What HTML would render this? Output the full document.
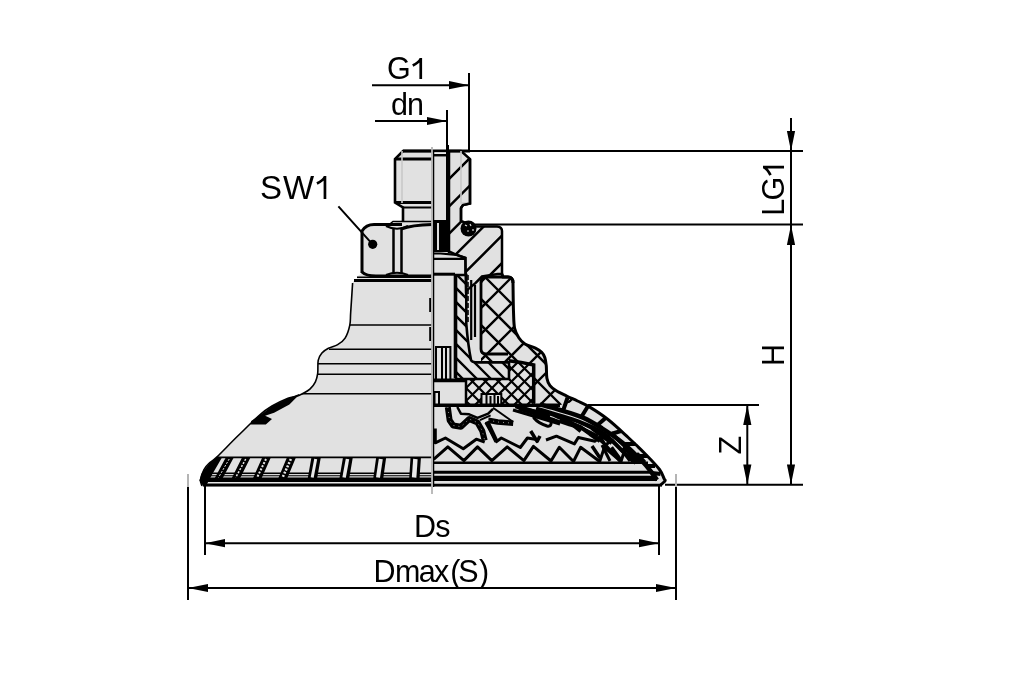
<!DOCTYPE html><html><head><meta charset="utf-8"><style>html,body{margin:0;padding:0;background:#fff;width:1010px;height:673px;overflow:hidden}svg{display:block;will-change:transform}</style></head><body><svg width="1010" height="673" viewBox="0 0 1010 673"><defs><clipPath id="c1"><path d="M449 151L461 151L470 159L470 203.5L463 205L461 208L461 221L474 226.5L497 226.5Q502 227 502 231L502 274L497.6 274L482 276.5L475.4 283.2L466 291L465.4 258L456.5 254.8L450.3 252L449 252Z"/></clipPath><clipPath id="c2"><path d="M456 275L466.3 275L466.3 324Q468 345 471 360Q472 362.4 478 362.4L509 362.4L509 379L456 379Z"/></clipPath><clipPath id="c3"><path d="M481 283Q481 277 487 277L508 277Q513 277 513 283C513.1 287.8 513.2 304.1 513.5 311.7C513.8 319.2 513.7 324.0 514.6 328.3C515.5 332.6 517.1 335.1 518.8 337.7C520.5 340.3 522.2 342.3 525.0 344.0C527.8 345.7 532.6 346.7 535.4 348.1C538.2 349.5 540.1 350.7 541.7 352.3C543.3 353.9 544.0 355.2 544.8 357.5C545.6 359.8 545.9 362.3 546.3 365.8C546.6 369.3 546.3 375.0 546.9 378.3C547.5 381.6 548.4 383.5 550.0 385.6C551.6 387.7 553.5 389.1 556.3 390.8C559.1 392.5 563.2 394.3 566.7 396.0C570.2 397.7 575.7 400.2 577.5 401.0L560 405L533.7 404L533.7 365L521 362.4L481 362.4Z"/></clipPath><clipPath id="c4"><path d="M465 379L509 379L509 362.4L521 362.4L533.7 365L533.7 404L465 404Z"/></clipPath></defs><path d="M403 151L461 151L470 159L470 203.5L463 205L461 208L461 221L470 224L497 225.5Q502 226 502 231L502 274L503 277L508 277Q513 277 513 283C513.1 287.8 513.2 304.1 513.5 311.7C513.8 319.2 513.7 324.0 514.6 328.3C515.5 332.6 517.1 335.1 518.8 337.7C520.5 340.3 522.2 342.3 525.0 344.0C527.8 345.7 532.6 346.7 535.4 348.1C538.2 349.5 540.1 350.7 541.7 352.3C543.3 353.9 544.0 355.2 544.8 357.5C545.6 359.8 545.9 362.3 546.3 365.8C546.6 369.3 546.3 375.0 546.9 378.3C547.5 381.6 548.4 383.5 550.0 385.6C551.6 387.7 553.5 389.1 556.3 390.8C559.1 392.5 563.2 394.3 566.7 396.0C570.2 397.7 573.7 399.2 577.5 401.0C581.3 402.8 584.3 403.8 589.4 406.9C594.5 410.0 601.5 414.4 608.0 419.5C614.5 424.6 621.6 431.4 628.2 437.5C634.8 443.6 642.3 450.9 647.5 456.2C652.7 461.5 656.7 465.7 659.5 469.5C662.3 473.3 663.3 477.0 664.2 478.9C665.1 480.8 665.6 479.9 664.9 481.0C664.2 482.1 660.8 484.8 660.0 485.5L659 487L202 487L202 486C201.8 485.0 200.2 482.8 200.5 480.0C200.8 477.2 202.6 472.3 204.0 469.5C205.4 466.7 206.9 465.4 209.1 463.3C211.3 461.2 212.5 461.2 217.3 456.6C222.1 452.0 230.9 442.7 238.0 435.8C245.1 428.9 253.9 420.0 259.6 415.0C265.3 410.0 267.3 408.8 272.0 406.0C276.7 403.2 284.0 399.8 288.0 398.2C292.0 396.6 293.5 397.3 295.9 396.6C298.3 395.9 300.1 395.0 302.4 393.8C304.7 392.6 307.7 391.2 309.9 389.2C312.1 387.2 314.1 384.4 315.4 381.8C316.7 379.2 317.2 377.0 317.7 373.4C318.2 369.8 317.5 363.8 318.2 360.4C318.9 357.0 320.2 355.0 321.9 353.0C323.6 351.0 325.8 349.7 328.4 348.3C331.0 346.9 334.9 346.3 337.7 344.6C340.5 342.9 343.1 341.4 345.1 338.1C347.1 334.9 348.9 329.4 349.8 325.1C350.7 320.8 350.2 319.1 350.7 312.1C351.2 305.1 352.3 287.9 352.6 283.0Q353 280 357 279L357 276.5L362 273L362 232Q364 225 374 225L392 224L402 220L402 207.5L395 202.5L395 159Z" fill="#e1e1e1"/>
<path d="M403 151L470 151M395 159L432 159M395 202.5L432 202.5" stroke="#000" stroke-width="3" fill="none"/><path d="M470 151L803 151" stroke="#000" stroke-width="2.2" fill="none"/><path d="M432 151H403L395 159V202.5L403 207.5V221" stroke="#000" stroke-width="2.6" fill="none"/><path d="M403 207.5L432 207.5" stroke="#000" stroke-width="2" fill="none"/><path d="M388 225.5L393 221.5H432" stroke="#000" stroke-width="1.6" fill="none"/><path d="M402 151V203" stroke="#c8c8c8" stroke-width="1.6"/><path d="M393.5 229V273M401.5 229V273" stroke="#000" stroke-width="2.5"/><path d="M362 273V231Q366 224.5 374 224.5L393 224.5" stroke="#000" stroke-width="3" fill="none"/><path d="M393 224.5L402 224.5M401 229Q412 225 432 224.5" stroke="#000" stroke-width="3" fill="none"/><path d="M386 226Q397 231.5 408 226" stroke="#000" stroke-width="2" fill="none"/><path d="M362 272Q366 276 376 276L432 276" stroke="#000" stroke-width="3" fill="none"/><path d="M386 275Q397 270.5 408 275" stroke="#000" stroke-width="2" fill="none"/><path d="M357 277.2L432 277.2" stroke="#000" stroke-width="1.5"/><path d="M354 280.5L432 280.5" stroke="#000" stroke-width="3"/><path d="M349.8 325.1H432M329 349.3H432M318 363.7H432M317.7 374.3H432M302 393.8H432" stroke="#000" stroke-width="1.5" fill="none"/><path d="M217 457.3H432" stroke="#000" stroke-width="1.8" fill="none"/><path d="M203 472.6H432V486.5H203Z" fill="#000"/><path d="M206 474.6H432M205 476.9H432" stroke="#d8d8d8" stroke-width="1.2" fill="none"/><path d="M203 482.8H432" stroke="#e8e8e8" stroke-width="1.5" fill="none"/><path d="M225.5 458L233.5 458L222.8 478L214.8 478ZM241.8 458L250.2 458L240.2 478L231.8 478ZM262.0 458L270.6 458L261.7 478L253.1 478ZM286.7 458L295.7 458L287.4 478L278.4 478ZM311.3 458L320.7 458L317.2 478L307.8 478ZM342.9 458L352.7 458L349.3 478L339.5 478ZM376.1 458L386.1 458L383.3 478L373.3 478ZM410.5 458L420.9 458L419.6 478L409.2 478Z" fill="#000"/><path d="M229.2 459L218.5 477.5" stroke="#e8e8e8" stroke-width="1.00" stroke-dasharray="2 1.5" fill="none"/><path d="M245.7 459L235.7 477.5" stroke="#e8e8e8" stroke-width="1.50" stroke-dasharray="2 1.5" fill="none"/><path d="M266.0 459L257.1 477.5" stroke="#e8e8e8" stroke-width="2.00" stroke-dasharray="2 1.5" fill="none"/><path d="M290.9 459L282.6 477.5" stroke="#e8e8e8" stroke-width="2.50" stroke-dasharray="2 1.5" fill="none"/><path d="M315.7 459L312.2 477.5" stroke="#e8e8e8" stroke-width="3.00" fill="none"/><path d="M347.5 459L344.1 477.5" stroke="#e8e8e8" stroke-width="3.50" fill="none"/><path d="M380.8 459L378.0 477.5" stroke="#e8e8e8" stroke-width="4.00" fill="none"/><path d="M415.4 459L414.1 477.5" stroke="#e8e8e8" stroke-width="4.50" fill="none"/><path d="M202 486C201.8 485.0 200.2 482.8 200.5 480.0C200.8 477.2 202.6 472.3 204.0 469.5C205.4 466.7 206.9 465.4 209.1 463.3C211.3 461.2 212.5 461.2 217.3 456.6C222.1 452.0 230.9 442.7 238.0 435.8C245.1 428.9 253.9 420.0 259.6 415.0C265.3 410.0 267.3 408.8 272.0 406.0C276.7 403.2 284.0 399.8 288.0 398.2C292.0 396.6 293.5 397.3 295.9 396.6C298.3 395.9 300.1 395.0 302.4 393.8C304.7 392.6 307.7 391.2 309.9 389.2C312.1 387.2 314.1 384.4 315.4 381.8C316.7 379.2 317.2 377.0 317.7 373.4C318.2 369.8 317.5 363.8 318.2 360.4C318.9 357.0 320.2 355.0 321.9 353.0C323.6 351.0 325.8 349.7 328.4 348.3C331.0 346.9 334.9 346.3 337.7 344.6C340.5 342.9 343.1 341.4 345.1 338.1C347.1 334.9 348.9 329.4 349.8 325.1C350.7 320.8 350.2 319.1 350.7 312.1C351.2 305.1 352.3 287.9 352.6 283.0" stroke="#000" stroke-width="1.6" fill="none"/><path d="M216.5 457.5L222 457.5L213 473L206 486L202.5 485.1L199.3 480.4L202 472.6L209.1 463.7Z" fill="#000"/><path d="M299.1 394L288 398.2L272.7 405.8L264.4 412L251.2 421L250.5 424.5L265.8 424.5L272 419L267.9 416.9L265.1 415.8L274.1 412.7L289.4 404.4L299.1 394.7Z" fill="#000"/>
<g clip-path="url(#c1)"><path d="M440 160.6L510 90.6M440 188.0L510 118.0M440 215.4L510 145.4M440 242.8L510 172.8M440 270.2L510 200.2M440 297.6L510 227.6M440 325.0L510 255.0M440 352.4L510 282.4" stroke="#000" stroke-width="2.5" fill="none"/></g><path d="M449 151L461 151L470 159L470 203.5L463 205L461 208L461 221L474 226.5L497 226.5Q502 227 502 231L502 274L497.6 274L482 276.5L475.4 283.2L466 291L465.4 258L456.5 254.8L450.3 252L449 252Z" fill="none" stroke="#000" stroke-width="2.5"/><path d="M433 155.2H446" stroke="#000" stroke-width="2.5"/><path d="M433 153H446" stroke="#f4f4f4" stroke-width="1.4"/><path d="M447.5 145V252" stroke="#000" stroke-width="3"/><path d="M461 151V203H470" stroke="#c8c8c8" stroke-width="1.6" fill="none"/><circle cx="468.5" cy="228.5" r="8" fill="#000"/><path d="M465 225l2 1M470 224l1 2M467 231l2 0M473 229l0 2" stroke="#ddd" stroke-width="1.2"/><rect x="434" y="220" width="16" height="32" fill="#000"/><rect x="437" y="223" width="2" height="27" fill="#ddd"/><path d="M433 253.5L440.5 253.5L456.5 254.8L465.4 257.9L465.4 274.4M433 258.8H465.4" stroke="#000" stroke-width="2.2" fill="none"/><path d="M433 274.2H455" stroke="#000" stroke-width="3"/><g clip-path="url(#c2)"><path d="M450 212.0L515 277.0M450 226.0L515 291.0M450 240.0L515 305.0M450 254.0L515 319.0M450 268.0L515 333.0M450 282.0L515 347.0M450 296.0L515 361.0M450 310.0L515 375.0M450 324.0L515 389.0M450 338.0L515 403.0M450 352.0L515 417.0M450 366.0L515 431.0M450 380.0L515 445.0" stroke="#000" stroke-width="2.3" fill="none"/></g><path d="M456 275L466.3 275L466.3 324Q468 345 471 360Q472 362.4 478 362.4L509 362.4L509 379L456 379Z" fill="none" stroke="#000" stroke-width="2.6"/><path d="M454.8 275V378M471.2 280V340M475 285V337" stroke="#000" stroke-width="2.2" fill="none"/><path d="M468 275V324" stroke="#000" stroke-width="1.6" stroke-dasharray="5 2" fill="none"/><path d="M436 379V347H450.4V379M442 347V379M446 347V379M433 379.4H465" stroke="#000" stroke-width="2" fill="none"/><path d="M430.2 298V312M430.2 327V341" stroke="#000" stroke-width="2"/><g clip-path="url(#c3)"><path d="M470 293.0L590 173.0M470 319.0L590 199.0M470 345.0L590 225.0M470 371.0L590 251.0M470 397.0L590 277.0M470 423.0L590 303.0M470 449.0L590 329.0M470 475.0L590 355.0M470 501.0L590 381.0M470 527.0L590 407.0" stroke="#000" stroke-width="2.3" fill="none"/><path d="M470 158.0L590 278.0M470 184.0L590 304.0M470 210.0L590 330.0M470 236.0L590 356.0M470 262.0L590 382.0M470 288.0L590 408.0M470 314.0L590 434.0M470 340.0L590 460.0M470 366.0L590 486.0M470 392.0L590 512.0" stroke="#000" stroke-width="2.3" fill="none"/></g><g clip-path="url(#c4)"><path d="M460 355.0L540 275.0M460 368.0L540 288.0M460 381.0L540 301.0M460 394.0L540 314.0M460 407.0L540 327.0M460 420.0L540 340.0M460 433.0L540 353.0M460 446.0L540 366.0M460 459.0L540 379.0M460 472.0L540 392.0M460 485.0L540 405.0" stroke="#000" stroke-width="2.2" fill="none"/><path d="M460 278.0L540 358.0M460 291.0L540 371.0M460 304.0L540 384.0M460 317.0L540 397.0M460 330.0L540 410.0M460 343.0L540 423.0M460 356.0L540 436.0M460 369.0L540 449.0M460 382.0L540 462.0M460 395.0L540 475.0M460 408.0L540 488.0" stroke="#000" stroke-width="2.2" fill="none"/></g><path d="M481 283Q481 277 487 277L508 277Q513 277 513 283" fill="none" stroke="#000" stroke-width="3"/><path d="M481 283V349Q481 354 486 354L508 354" fill="none" stroke="#000" stroke-width="2.8"/><path d="M508.7 360.8L521.2 362.4L533.7 365V403" fill="none" stroke="#000" stroke-width="3.5"/><path d="M466 379V404" fill="none" stroke="#000" stroke-width="2.5"/><path d="M433 381H466" stroke="#000" stroke-width="2.5" fill="none"/><rect x="481.5" y="394" width="19.8" height="10" fill="#e1e1e1"/><path d="M434.5 404V392H439V404M481.5 404V394H501.3V404M486.5 394V404M490.5 396V404M494.5 394V404M498 396V404" stroke="#000" stroke-width="2" fill="none"/><path d="M433 405.3H560" stroke="#000" stroke-width="3.5" fill="none"/><path d="M502 274L503 277L508 277Q513 277 513 283C513.1 287.8 513.2 304.1 513.5 311.7C513.8 319.2 513.7 324.0 514.6 328.3C515.5 332.6 517.1 335.1 518.8 337.7C520.5 340.3 522.2 342.3 525.0 344.0C527.8 345.7 532.6 346.7 535.4 348.1C538.2 349.5 540.1 350.7 541.7 352.3C543.3 353.9 544.0 355.2 544.8 357.5C545.6 359.8 545.9 362.3 546.3 365.8C546.6 369.3 546.3 375.0 546.9 378.3C547.5 381.6 548.4 383.5 550.0 385.6C551.6 387.7 553.5 389.1 556.3 390.8C559.1 392.5 563.2 394.3 566.7 396.0C570.2 397.7 573.7 399.2 577.5 401.0C581.3 402.8 584.3 403.8 589.4 406.9C594.5 410.0 601.5 414.4 608.0 419.5C614.5 424.6 621.6 431.4 628.2 437.5C634.8 443.6 642.3 450.9 647.5 456.2C652.7 461.5 656.7 465.7 659.5 469.5C662.3 473.3 663.3 477.0 664.2 478.9C665.1 480.8 665.6 479.9 664.9 481.0C664.2 482.1 660.8 484.8 660.0 485.5" fill="none" stroke="#000" stroke-width="3"/><path d="M461 208L461 221M470 159V203.5L463 205L461 208" fill="none" stroke="#000" stroke-width="2.5"/><path d="M433.5 151V487" stroke="#000" stroke-width="1.5"/><path d="M540 404.5C543.3 405.4 552.8 407.8 560.0 410.0C567.2 412.2 576.0 414.6 583.0 417.6C590.0 420.7 595.5 424.2 602.0 428.3C608.5 432.4 615.5 437.0 622.2 442.5C628.9 448.0 637.4 456.4 642.4 461.5C647.4 466.6 649.6 469.9 652.0 473.0C654.4 476.1 656.2 478.8 657.0 480.0" fill="none" stroke="#000" stroke-width="4.5"/><path d="M536 408.5C543.4 410.8 569.2 418.0 580.6 422.3C592.0 426.6 596.5 428.4 604.4 434.2C612.3 439.9 622.9 452.0 628.2 456.8C633.5 461.6 634.7 462.0 636.0 463.0" fill="none" stroke="#000" stroke-width="4"/><path d="M550 414C555.0 416.2 571.7 422.7 580.0 427.0C588.3 431.3 594.7 435.8 600.0 440.0C605.3 444.2 608.7 448.5 612.0 452.0C615.3 455.5 618.7 459.5 620.0 461.0" fill="none" stroke="#000" stroke-width="3"/><path d="M567.6 397.5L563 411M587.8 406.5L581 417.5M605.6 418L597 425.5M621 431L611 434M635.3 444L624 444M647.2 456L637 456M655 466L646 466M660.5 474L652 473" stroke="#000" stroke-width="4"/><path d="M447.8 407L449.6 420.2L453.2 425.5L460.9 426.7L469.2 419L477.5 422.6L482.3 430.9L484.7 440.4" fill="none" stroke="#000" stroke-width="6" stroke-linejoin="round"/><path d="M457.3 407L460.9 413.7L469.2 414.3L477.5 417.8L488.2 413.7L493 408.9" fill="none" stroke="#000" stroke-width="2.5" stroke-linejoin="round"/><path d="M479.9 420.2L490.6 415.4" fill="none" stroke="#000" stroke-width="2" stroke-linejoin="round"/><path d="M487 421.4L496.5 441.6" fill="none" stroke="#000" stroke-width="4.5" stroke-linejoin="round"/><path d="M488.2 420.2L497.7 422L513.2 423.2" fill="none" stroke="#000" stroke-width="5.5" stroke-linejoin="round"/><path d="M493 407.7L513.2 422" fill="none" stroke="#000" stroke-width="2" stroke-linejoin="round"/><path d="M515.5 406L550 416.6" fill="none" stroke="#000" stroke-width="4.5" stroke-linejoin="round"/><path d="M534 416Q545 416 551 421Q552 427 547 426Q538 423 534 418Z" fill="none" stroke="#000" stroke-width="3" stroke-linejoin="round"/><path d="M518.7 409L554.4 419.8L569.2 424.8L583 428.7L598 436" fill="none" stroke="#000" stroke-width="3" stroke-linejoin="round"/><path d="M560.4 418.8L580.6 427.1L590 434L600 441" fill="none" stroke="#000" stroke-width="4" stroke-linejoin="round"/><path d="M530.7 431L537.1 441.3L540 436" fill="none" stroke="#000" stroke-width="3.5" stroke-linejoin="round"/><path d="M611.5 447.3L621 460.3M592 446L600 458M630 455L640 462" fill="none" stroke="#000" stroke-width="3.5" stroke-linejoin="round"/><path d="M566 419L581 431M592 428L612 443" fill="none" stroke="#000" stroke-width="4.5" stroke-linejoin="round"/><path d="M611 433L628 449L640 461" fill="none" stroke="#000" stroke-width="4" stroke-linejoin="round"/><path d="M513 410L540 418L560 424M525 409L548 414" fill="none" stroke="#000" stroke-width="3" stroke-linejoin="round"/><path d="M575 420L595 430L610 437" fill="none" stroke="#000" stroke-width="3" stroke-linejoin="round"/><path d="M602 445L610 461M622 450L630 461" fill="none" stroke="#000" stroke-width="3" stroke-linejoin="round"/><path d="M447.8 407L449.6 420.2L453.2 425.5L460.9 426.7L469.2 419L477.5 422.6L482.3 430.9L484.7 440.4M488.2 420.2L497.7 422L513.2 423.2" fill="none" stroke="#bbb" stroke-width="0.8" stroke-dasharray="1 4"/><path d="M433.6 459.4L447.8 446.9L463.9 460.6L477.5 446.9L491.8 460.6L507.2 446.9L523.9 460.6L533.4 446.3L551 461L559.3 447.3L573.5 461.5L580.6 447.3L599.7 461.5L604.4 447.3L621 461.5L625 449L636 461.5L638 454L645 462" fill="none" stroke="#000" stroke-width="3" stroke-linejoin="round"/><path d="M435.3 428.5L435.3 442.8L445.4 438L463.3 448.7L476.3 439.2L484.7 442.2M485.8 422.6L496.5 441.6L501.3 438L520.3 447.5L527.4 438L538.1 439.8M546 440L556.4 436.2L574.4 443.9L578.3 437.5L595 441.3L600.2 436.2L605.3 445.2L612 440L622 451L626 446L634 456" fill="none" stroke="#000" stroke-width="3" stroke-linejoin="round"/><path d="M433 462.8H648" stroke="#000" stroke-width="2.4"/><path d="M433 472.2H653" stroke="#000" stroke-width="3"/><path d="M433 478.4H657" stroke="#000" stroke-width="5.2"/><path d="M433 485.2H662" stroke="#000" stroke-width="2.7"/>
<path d="M432 147V494" stroke="#b4b4b4" stroke-width="1.8"/>
<path d="M469 85.2L449.0 89.3L449.0 81.1ZM447 121L427.0 125.1L427.0 116.9ZM791 151L786.9 131.0L795.1 131.0ZM791 225L795.1 245.0L786.9 245.0ZM791 484.5L786.9 464.5L795.1 464.5ZM747.3 405L751.4 425.0L743.2 425.0ZM747.3 484.5L743.2 464.5L751.4 464.5ZM205 543.2L225.0 539.1L225.0 547.3ZM659 543.2L639.0 547.3L639.0 539.1ZM188 588L208.0 583.9L208.0 592.1ZM676 588L656.0 592.1L656.0 583.9Z" fill="#000"/><path d="M372 85.2H469M469 73V151M375 121H447M447 110V151M474 224.6H803M588 405H759M665 484.8H803M791 118V484.8M747.3 405V484.8M205 486V555M659 486V555M205 543.2H659M188 487V600M676 487V600M188 588H676M338.4 206.3L372.6 244.4" stroke="#000" stroke-width="2" fill="none"/><circle cx="372.7" cy="244.3" r="4.6" fill="#000"/><path d="M188 474V487M676 474V487" stroke="#b4b4b4" stroke-width="2"/>
<g font-family="Liberation Sans" font-size="30.5" fill="#000"><text x="386.9" y="79">G</text><text x="391" y="115">d</text><text x="407" y="115">n</text><text x="260" y="199" font-size="33">S</text><text x="283.1" y="199" font-size="33">W</text><text x="414" y="537">D</text><text x="435.2" y="537">s</text><text x="373.6" y="582">D</text><text x="394.9" y="582">m</text><text x="418.8" y="582">a</text><text x="434" y="582">x</text><text x="450.3" y="582">(</text><text x="458.3" y="582">S</text><text x="479.1" y="582">)</text><text transform="translate(784,215.8) rotate(-90)">L</text><text transform="translate(784,200.6) rotate(-90)">G</text><text transform="translate(784.3,366.1) rotate(-90)">H</text><text transform="translate(740.6,454.6) rotate(-90)">Z</text></g><path d="M420.75 79V58M420.75 58.8C419.25 61.50 415.75 64.00 412.75 65.50M324.95 199V176M324.95 176.8C323.45 179.50 319.95 182.00 316.95 183.50" stroke="#000" stroke-width="2.7" fill="none"/><g transform="translate(784,165.8) rotate(-90)"><path d="M-1.35 0V-21M-1.35 -20.2C-2.85 -17.50 -6.35 -15.00 -9.35 -13.50" stroke="#000" stroke-width="2.7" fill="none"/></g></svg></body></html>
